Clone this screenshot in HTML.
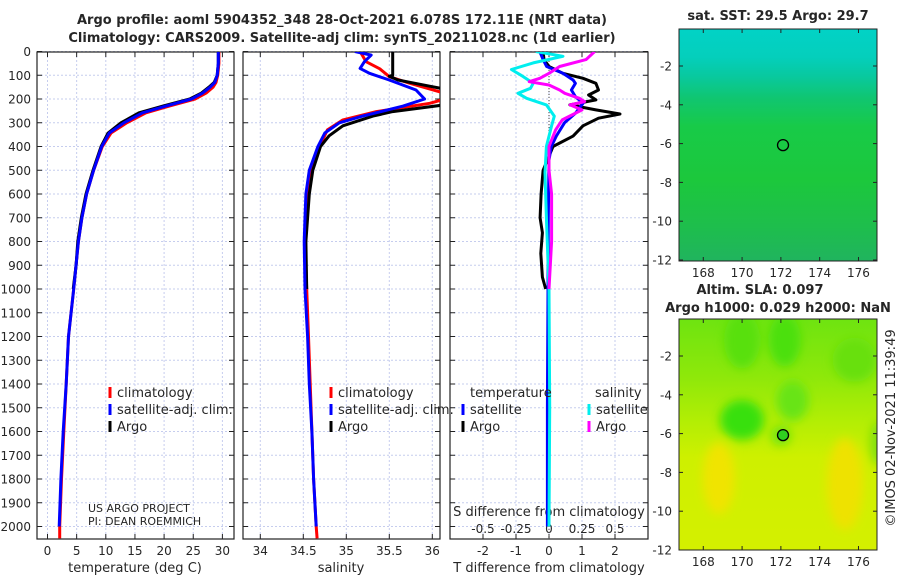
<!DOCTYPE html>
<html><head><meta charset="utf-8"><style>
body{margin:0;background:#fff;}
svg text{font-family:"DejaVu Sans","Liberation Sans",sans-serif;fill:#262626;}
</style></head><body>
<svg id="fig" width="900" height="580" viewBox="0 0 900 580" xmlns="http://www.w3.org/2000/svg">
<defs>
<linearGradient id="sstGrad" x1="0" y1="0" x2="0" y2="1">
<stop offset="0" stop-color="#02d2c6"/><stop offset="0.12" stop-color="#04cfbc"/>
<stop offset="0.2" stop-color="#08c9a0"/><stop offset="0.3" stop-color="#10c670"/><stop offset="0.42" stop-color="#18ca48"/>
<stop offset="0.65" stop-color="#1cc83c"/><stop offset="0.85" stop-color="#1ebe4c"/><stop offset="1" stop-color="#20b45e"/>
</linearGradient>
<linearGradient id="slaGrad" x1="0" y1="0" x2="0" y2="1">
<stop offset="0" stop-color="#6ee410"/><stop offset="0.25" stop-color="#8ee80a"/>
<stop offset="0.45" stop-color="#b4ee04"/><stop offset="0.6" stop-color="#cef000"/><stop offset="1" stop-color="#d4f000"/>
</linearGradient>
<filter id="blur" x="-50%" y="-50%" width="200%" height="200%"><feGaussianBlur stdDeviation="5"/></filter>
<clipPath id="c1"><rect x="37" y="52" width="197" height="487"/></clipPath>
<clipPath id="c2"><rect x="243" y="52" width="197" height="487"/></clipPath>
<clipPath id="c3"><rect x="450" y="52" width="198" height="487"/></clipPath>
<clipPath id="cm2"><rect x="679" y="319" width="198" height="231"/></clipPath>
</defs>
<g id="root"></g>
</svg>
<script>
// ---- data ----
const depthTicks=[0,100,200,300,400,500,600,700,800,900,1000,1100,1200,1300,1400,1500,1600,1700,1800,1900,2000];
const tempTicks=[0,5,10,15,20,25,30];
const salTicks=[34,34.5,35,35.5,36];
const salTickLabels=["34","34.5","35","35.5","36"];
const tdiffTicks=[-2,-1,0,1,2];
const sdiffTicks=[-0.5,-0.25,0,0.25,0.5];
const sdiffTickLabels=["-0.5","-0.25","0","0.25","0.5"];

const tClimDepth=[0,50,100,130,150,175,200,230,258,300,343,400,500,600,700,800,1000,1200,1400,1600,1800,2000,2050];
const tClim=[29.4,29.4,29.2,28.9,28.4,27.2,25.3,20.9,16.9,13.6,10.9,9.4,7.9,6.7,5.9,5.3,4.5,3.6,3.2,2.8,2.4,2.1,2.1];
const tSatDepth=[0,50,100,130,150,175,200,230,258,300,343,400,500,600,700,800,1000,1200,1400,1600,1800,2000];
const tSat=[29.3,29.3,29.1,28.7,27.9,26.6,24.7,20.3,16.3,13.1,10.6,9.3,7.9,6.7,5.9,5.3,4.5,3.6,3.2,2.7,2.3,2.0];
const tArgoDepth=[0,50,100,130,150,175,200,230,258,300,343,400,500,600,700,800,900,1000];
const tArgo=[29.3,29.3,29.1,28.6,27.7,26.4,24.4,19.8,15.7,12.6,10.4,9.2,7.8,6.6,5.8,5.2,4.9,4.4];

const sClimDepth=[0,43,73,106,134,170,190,218,253,288,330,400,500,600,800,1000,1200,1400,1600,1800,2000,2050];
const sClim=[35.16,35.23,35.39,35.5,35.74,36.09,36.25,35.97,35.35,34.96,34.78,34.69,34.58,34.54,34.52,34.54,34.56,34.58,34.6,34.62,34.65,34.66];
const sSatDepth=[0,15,43,71,92,120,162,200,230,272,300,343,400,500,600,700,800,1000,1200,1400,1600,1800,2000];
const sSat=[35.1,35.29,35.21,35.16,35.27,35.5,35.81,35.91,35.66,35.19,34.92,34.75,34.67,34.57,34.53,34.52,34.51,34.52,34.55,34.57,34.6,34.62,34.65];
const sArgoDepth=[0,100,104,120,146,162,205,222,253,272,313,355,400,500,600,700,800,1000];
const sArgo=[35.54,35.54,35.5,35.6,35.97,36.2,36.3,36.2,35.54,35.31,34.96,34.8,34.7,34.61,34.57,34.55,34.53,34.54];

const dTSatDepth=[0,34,63,92,120,134,162,190,218,260,300,356,400,457,700,1000,1500,2000];
const dTSat=[-0.28,-0.18,-0.07,0.42,0.73,0.8,0.68,0.8,1.03,0.8,0.47,0.22,0.07,0.0,-0.02,-0.03,-0.05,-0.05];
const dTArgoDepth=[0,34,63,92,113,134,162,183,204,225,246,263,281,313,356,400,500,600,700,763,850,950,1000];
const dTArgo=[-0.18,-0.15,0.0,0.42,1.03,1.42,1.5,1.2,1.42,0.63,1.42,2.15,1.5,1.03,0.73,0.12,-0.18,-0.24,-0.27,-0.2,-0.25,-0.2,-0.1];
const dSSatDepth=[0,20,48,76,104,134,155,176,197,225,272,313,400,510,700,1000,1500,2000];
const dSSat=[-0.1,0.106,-0.12,-0.285,-0.2,-0.12,-0.14,-0.235,-0.17,-0.02,0.04,0.02,-0.02,-0.03,-0.02,0.0,0.005,0.0];
const dSArgoDepth=[0,34,63,92,113,127,141,162,176,197,211,225,246,288,330,400,500,600,800,1000];
const dSArgo=[0.346,0.28,0.08,0.0,-0.07,-0.15,0.0,0.08,0.12,0.23,0.27,0.16,0.25,0.1,0.05,0.0,0.0,0.02,0.02,0.0];

const lonTicks=[168,170,172,174,176];
const latTicks=[-2,-4,-6,-8,-10,-12];
const argoLon=172.11, argoLat=-6.078;

// ---- scales ----
const NS="http://www.w3.org/2000/svg";
const root=document.getElementById('root');
const yD=d=>51.5+d*0.2375;
const xT=v=>47.5+v*5.83;
const xS=v=>260.3+(v-34)*86;
const xDT=v=>549+v*33;
const xDS=v=>549+v*132;
const xLon=l=>680+(l-166.8)*19.4;
const yLat1=l=>66+(-2-l)*19.4;
const yLat2=l=>356+(-2-l)*19.4;

function mk(tag,attrs,parent){const e=document.createElementNS(NS,tag);for(const k in attrs)e.setAttribute(k,attrs[k]);(parent||root).appendChild(e);return e;}
function txt(x,y,s,size,anchor,weight,parent){const t=mk('text',{x:x,y:y,'font-size':size,'text-anchor':anchor||'middle','font-weight':weight||'normal'},parent);t.textContent=s;return t;}
function line(vals,depths,xf,color,clip,name){
  let d='';vals.forEach((v,i)=>{d+=(i?'L':'M')+xf(v).toFixed(1)+','+yD(depths[i]).toFixed(1);});
  const p=mk('path',{d:d,fill:'none',stroke:color,'stroke-width':3,'stroke-linejoin':'round','clip-path':'url(#'+clip+')'});
  
  
}

// titles
let t=txt(342,24,'Argo profile: aoml 5904352_348 28-Oct-2021 6.078S 172.11E (NRT data)',13,'middle','bold');


t=txt(342,42,'Climatology: CARS2009. Satellite-adj clim: synTS_20211028.nc (1d earlier)',13,'middle','bold');



const panels=[{x0:37,x1:234,clip:'c1'},{x0:243,x1:440,clip:'c2'},{x0:450,x1:648,clip:'c3'}];
panels.forEach((p,pi)=>{
  const g=mk('g',{});
  
  
  depthTicks.forEach(d=>{mk('line',{x1:p.x0,x2:p.x1,y1:yD(d),y2:yD(d),stroke:'#c6cdee','stroke-width':1,'stroke-dasharray':'2,2'},g);
    mk('line',{x1:p.x0,x2:p.x0+5,y1:yD(d),y2:yD(d),stroke:'#222'},g);mk('line',{x1:p.x1-5,x2:p.x1,y1:yD(d),y2:yD(d),stroke:'#222'},g);});
  let xt=pi==0?tempTicks.map(xT):pi==1?salTicks.map(xS):tdiffTicks.map(xDT);
  xt.forEach(x=>{mk('line',{x1:x,x2:x,y1:52,y2:539,stroke:'#c6cdee','stroke-width':1,'stroke-dasharray':'2,2'},g);
    mk('line',{x1:x,x2:x,y1:534,y2:539,stroke:'#222'},g);mk('line',{x1:x,x2:x,y1:52,y2:57,stroke:'#222'},g);});
  mk('rect',{x:p.x0,y:52,width:p.x1-p.x0,height:487,fill:'none',stroke:'#222','stroke-width':1.2},g);
});
depthTicks.forEach(d=>{const e=txt(31,yD(d)+4.5,String(d),12,'end');
  
  });
tempTicks.forEach(v=>{const e=txt(xT(v),555,String(v),12);
  
  });
salTicks.forEach((v,i)=>{const e=txt(xS(v),555,salTickLabels[i],12);
  
  });
tdiffTicks.forEach(v=>{const e=txt(xDT(v),555,String(v),12);
  
  });
sdiffTicks.forEach((v,i)=>{const e=txt(xDS(v),533,sdiffTickLabels[i],12);
  
  });
t=txt(135,572,'temperature (deg C)',13);
t=txt(341,572,'salinity',13);
t=txt(549,572,'T difference from climatology',13);
t=txt(549,516,'S difference from climatology',13);

// zero line panel 3
mk('line',{x1:549,x2:549,y1:52,y2:539,stroke:'#444','stroke-width':1,'stroke-dasharray':'1,2'});

// series
line(tClim,tClimDepth,xT,'#ff0000','c1','temp-climatology-line');
line(tArgo,tArgoDepth,xT,'#000000','c1','temp-argo-line');
line(tSat,tSatDepth,xT,'#0000ff','c1','temp-satellite-line');
line(sClim,sClimDepth,xS,'#ff0000','c2','sal-climatology-line');
line(sArgo,sArgoDepth,xS,'#000000','c2','sal-argo-line');
line(sSat,sSatDepth,xS,'#0000ff','c2','sal-satellite-line');
line(dTArgo,dTArgoDepth,xDT,'#000000','c3','tdiff-argo-line');
line(dTSat,dTSatDepth,xDT,'#0000ff','c3','tdiff-satellite-line');
line(dSSat,dSSatDepth,xDS,'#00eeee','c3','sdiff-satellite-line');
line(dSArgo,dSArgoDepth,xDS,'#ff00ff','c3','sdiff-argo-line');

// legends
function legEntry(x,y,color,label,name){const g=mk('g',{});
  
  
  mk('rect',{x:x-1.5,y:y-10,width:3,height:11,fill:color},g);txt(x+7,y,label,13,'start','normal',g);}
legEntry(110,397,'#ff0000','climatology','legend-entry-climatology');
legEntry(110,414,'#0000ff','satellite-adj. clim.','legend-entry-satellite-adj');
legEntry(110,431,'#000000','Argo','legend-entry-argo');
legEntry(331,397,'#ff0000','climatology','legend-entry-sal-climatology');
legEntry(331,414,'#0000ff','satellite-adj. clim.','legend-entry-sal-satellite-adj');
legEntry(331,431,'#000000','Argo','legend-entry-sal-argo');
t=txt(470,397,'temperature',13,'start');
t=txt(595,397,'salinity',13,'start');
legEntry(463,414,'#0000ff','satellite','legend-entry-tdiff-satellite');
legEntry(463,431,'#000000','Argo','legend-entry-tdiff-argo');
legEntry(589,414,'#00eeee','satellite','legend-entry-sdiff-satellite');
legEntry(589,431,'#ff00ff','Argo','legend-entry-sdiff-argo');
t=txt(88,512,'US ARGO PROJECT',11,'start');
t=txt(88,525,'PI: DEAN ROEMMICH',11,'start');

// maps
function mapPanel(top,bottom,fill,name){
  const g=mk('g',{});
  
  
  mk('rect',{x:679,y:top,width:198,height:bottom-top,fill:fill},g);
  return g;
}
const m1=mapPanel(29,261,'url(#sstGrad)','sst-map');
const m2=mapPanel(319,550,'url(#slaGrad)','sla-map');
const blobs=mk('g',{'clip-path':'url(#cm2)',filter:'url(#blur)'},m2);
[[170,-1.2,18,28,'#58e010'],[172.2,-1.2,16,26,'#4ce010'],[175.8,-2.2,22,22,'#68e010'],[170,-5.3,22,20,'#38e010'],[172.6,-4.3,16,20,'#68e414'],[168.8,-8.3,16,36,'#f0e400'],[175.3,-8.6,18,46,'#eee200'],[177,-6.5,8,22,'#80e010'],[172,-6.1,10,10,'#70e410']].forEach(b=>{
  mk('ellipse',{cx:xLon(b[0]),cy:yLat2(b[1]),rx:b[2],ry:b[3],fill:b[4]},blobs);});
[[m1,yLat1,29,261],[m2,yLat2,319,550]].forEach(([g,yl,top,bot])=>{
  mk('rect',{x:679,y:top,width:198,height:bot-top,fill:'none',stroke:'#222','stroke-width':1},g);
  lonTicks.forEach(l=>{mk('line',{x1:xLon(l),x2:xLon(l),y1:bot-4,y2:bot,stroke:'#222'},g);mk('line',{x1:xLon(l),x2:xLon(l),y1:top,y2:top+4,stroke:'#222'},g);
    txt(xLon(l),bot+16,String(l),12,'middle','normal',g);});
  latTicks.forEach(l=>{mk('line',{x1:679,x2:683,y1:yl(l),y2:yl(l),stroke:'#222'},g);mk('line',{x1:873,x2:877,y1:yl(l),y2:yl(l),stroke:'#222'},g);
    txt(672,yl(l)+4.5,String(l),12,'end','normal',g);});
});
let c=mk('circle',{cx:xLon(argoLon),cy:yLat1(argoLat),r:5.5,fill:'none',stroke:'#000','stroke-width':1.3});


c=mk('circle',{cx:xLon(argoLon),cy:yLat2(argoLat),r:5.5,fill:'#30d020',stroke:'#000','stroke-width':1.3});


t=txt(778,20,'sat. SST: 29.5 Argo: 29.7',13,'middle','bold');
t=txt(760,294,'Altim. SLA: 0.097',13,'middle','bold');
t=txt(778,312,'Argo h1000: 0.029 h2000: NaN',13,'middle','bold');
t=txt(0,0,'©IMOS 02-Nov-2021 11:39:49',13,'middle');
t.setAttribute('transform','translate(895,428) rotate(-90)');


</script>
</body></html>
